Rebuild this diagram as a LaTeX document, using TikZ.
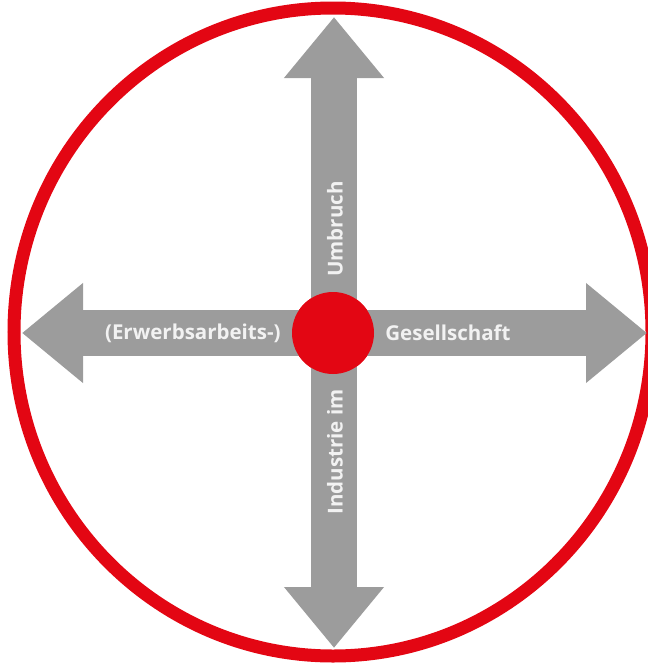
\documentclass[tikz,border=0pt]{standalone}
\usepackage{fontspec}
\setmainfont{Open Sans}
\usetikzlibrary{arrows.meta,positioning}
\definecolor{Ring}{HTML}{E30613}
\definecolor{Bar}{HTML}{9C9C9C}
\definecolor{Label}{HTML}{F2F2F2}

\begin{document}
\begin{tikzpicture}[x=1pt,y=-1pt,
    bar/.style={draw=Bar,line width=46pt,-{Triangle[length=61pt,width=96pt]}},
    word/.style={text=Label,font=\bfseries\fontsize{20.5pt}{22pt}\selectfont,inner sep=0pt}]
        \useasboundingbox (0,0) rectangle (648,667);
        \draw[Ring,line width=13pt] (333,332) ellipse [x radius=319pt,y radius=324pt];
        \node[circle,fill=Ring,minimum size=82pt,inner sep=0pt] (hub) at (333,333) {};
        \coordinate (west) at (22,333);
        \coordinate (east) at (647,333);
        \coordinate (north) at (334,17);
        \coordinate (south) at (334,648);
        \draw[bar] (hub.center-|north) -- (north);
        \draw[bar] (hub.center-|south) -- (south);
        \draw[bar] (hub.center) -- (west);
        \draw[bar] (hub.center) -- (east);
        \fill[Ring] (hub) circle (41pt);
        \node[word,left=11pt of hub] (erwerb) {(Erwerbsarbeits-)};
        \node[word,right=11pt of hub] (gesell) {Gesellschaft};
        \node[word,rotate=90] (umbruch) at (335,229) {Umbruch};
        \node[word,rotate=90] (industrie) at (335,452) {Industrie im};
      \end{tikzpicture}
\end{document}
